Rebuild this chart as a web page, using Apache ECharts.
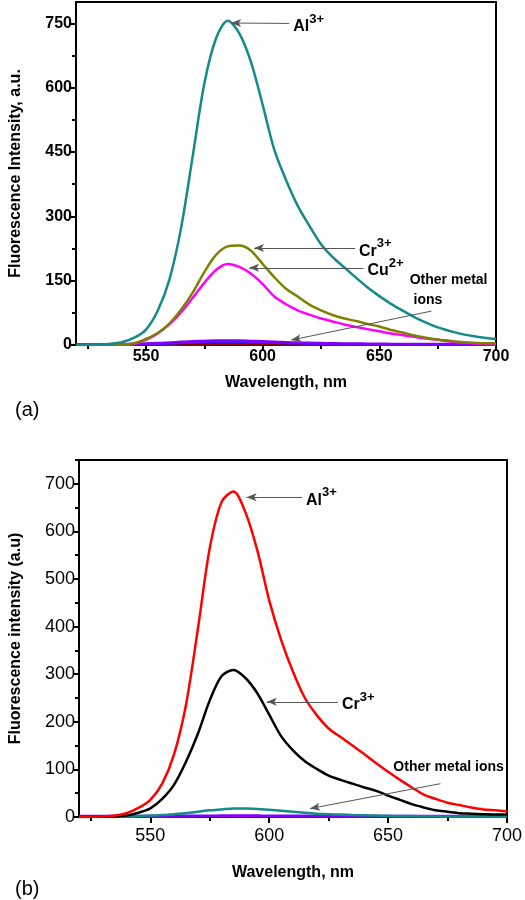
<!DOCTYPE html>
<html><head><meta charset="utf-8">
<script src="https://cdn.jsdelivr.net/npm/echarts@6/dist/echarts.min.js"></script>
<style>html,body{margin:0;padding:0;background:#fff}#c{width:525px;height:900px}</style>
</head><body><div id="c"></div>
<script>
// Wavelength grid (nm)
const wl = [520,525,530,535,540,545,550,555,560,565,570,575,580,585,590,595,600,605,610,615,620,625,630,635,640,645,650,655,660,665,670,675,680,685,690,695,700];
// Panel (a)
const aAl  = [0,0.5,1,3,7,17,36,80,152,272,440,610,715,756,727,660,560,455,385,325,278,235,205,181,157,134,114,96,80,65,52,41,33,26,21,17,14];
const aCr  = [0,0,0.5,1,1,4,14,28,50,82,122,170,210,230,232,220,189,158,131,113,94,81,70,62,56,49,43,35,29,22,17,13,10,7,5,4,4];
const aCu  = [0,0,0.5,1,1,3,12,27,48,76,110,145,175,189,182,166,142,113,95,81,71,62,55,48,42,37,32,27,23,19,15,12,8,6,4,3,2];
const aOth1 = [1,1,1,1,1.5,2,3,4,5,7,8,9,10,10,10,9,8,7,6,5,4.5,4,3.5,3,3,2.5,2.5,2,2,2,1.5,1.5,1.5,1,1,1,1];
const aOth2 = [0.5,0.5,0.5,0.5,1,1,1.5,2,3,4,5,5.5,6,6,6,5.5,5,4.5,4,3.5,3,2.5,2,2,1.5,1.5,1.5,1,1,1,1,1,1,0.5,0.5,0.5,0.5];
const aOth3 = [0.5,0.5,0.5,0.5,0.5,0.5,1,1,1.5,2,2,2.5,3,3,3,2.5,2.5,2,2,1.5,1.5,1.5,1,1,1,1,1,1,0.5,0.5,0.5,0.5,0.5,0.5,0.5,0.5,0.5];
const aOth4 = [0,0,0,0,0,0,0.5,0.5,0.5,1,1,1,1.5,1.5,1.5,1,1,1,1,1,0.5,0.5,0.5,0.5,0.5,0.5,0.5,0.5,0.5,0,0,0,0,0,0,0,0];
// Panel (b)
const bAl  = [0,0.5,1,3,8,19,36,70,132,236,395,565,662,684,640,560,455,372,305,250,214,186,168,150,132,113,95,78,62,47,38,30,25,20,16,14,12];
const bCr  = [0,0,0.5,1,3,9,18,38,68,116,175,245,296,309,292,260,215,170,140,117,101,87,78,70,62,55,45,36,27,20,14,11,8,7,6,5,5];
const bOth1 = [0,0,0.5,1,1,2,3,4,6,8,11,14,16,18,18,17,15,13,11,9,7,6,5,4,3.5,3,2.5,2,2,1.5,1.5,1,1,1,1,1,1];
const bOth2 = [2,2,2,2,2,2,2,2,2.5,2.5,2.5,2.5,3,3,3,3,2.5,2.5,2.5,2.5,2.5,2,2,2,2,2,2,2,2,2,2,2,2,2,2,2,2];
const bOth3 = [1,1,1,1,1,1,1,1,1,1,1.5,1.5,1.5,1.5,1.5,1.5,1.5,1,1,1,1,1,1,1,1,1,1,1,1,1,1,1,1,1,1,1,1];
// Tick values
const xMajor = [550,600,650,700];
const xMinor = [525,575,625,675];
const aYMajor = [0,150,300,450,600,750];
const aYMinor = [75,225,375,525,675];
const bYMajor = [0,100,200,300,400,500,600,700];
const bYMinor = [50,150,250,350,450,550,650,750];

const zip = arr => wl.map((x,i)=>[x, arr[i]]);
const FF = 'Liberation Sans, Arial, sans-serif';

function xAxes(g, labelStyle, margin, nameGap) {
  return [{
    type:'value', gridIndex:g, min:520, max:700, position:'bottom',
    name:'Wavelength, nm', nameLocation:'middle', nameGap:nameGap,
    nameTextStyle:{fontFamily:FF, fontWeight:'bold', fontSize:16, color:'#000'},
    axisLine:{show:true, onZero:false, lineStyle:{color:'#000', width:2}},
    axisTick:{show:true, customValues:xMajor, length:6, lineStyle:{color:'#000', width:2}},
    axisLabel:Object.assign({customValues:xMajor, margin:margin, color:'#000', fontFamily:FF}, labelStyle),
    splitLine:{show:false}
  },{
    type:'value', gridIndex:g, min:520, max:700, position:'bottom',
    axisLine:{show:false},
    axisTick:{show:true, customValues:xMinor, length:4, lineStyle:{color:'#000', width:2}},
    axisLabel:{show:false}, splitLine:{show:false}
  }];
}
function yAxes(g, max, major, minor, name, labelStyle, nameGap) {
  return [{
    type:'value', gridIndex:g, min:0, max:max, position:'left',
    name:name, nameLocation:'middle', nameGap:nameGap,
    nameTextStyle:{fontFamily:FF, fontWeight:'bold', fontSize:16, color:'#000'},
    axisLine:{show:true, onZero:false, lineStyle:{color:'#000', width:2}},
    axisTick:{show:true, customValues:major, length:6, lineStyle:{color:'#000', width:2}},
    axisLabel:Object.assign({customValues:major, margin:4, color:'#000', fontFamily:FF}, labelStyle),
    splitLine:{show:false}
  },{
    type:'value', gridIndex:g, min:0, max:max, position:'left',
    axisLine:{show:false},
    axisTick:{show:true, customValues:minor, length:4, lineStyle:{color:'#000', width:2}},
    axisLabel:{show:false}, splitLine:{show:false}
  }];
}

const rich = {
  n:{fontFamily:FF, fontWeight:'bold', fontSize:16, color:'#000', verticalAlign:'bottom', lineHeight:22},
  s:{fontFamily:FF, fontWeight:'bold', fontSize:13, color:'#000', verticalAlign:'top', lineHeight:22, padding:[0,0,10,0]},
  t:{fontFamily:FF, fontWeight:'bold', fontSize:14, color:'#000', lineHeight:20}
};

function line(name, data, color, xi, yi, width) {
  return {name, type:'line', xAxisIndex:xi, yAxisIndex:yi, data:zip(data), showSymbol:false, smooth:0.3,
    lineStyle:{color, width:width||2.5}, itemStyle:{color}, animation:false, silent:true};
}
const arrowStyle = {silent:true, animation:false, symbol:['none','arrow'], symbolSize:[6,10],
  lineStyle:{color:'#555', width:1, type:'solid'}, label:{show:false}, emphasis:{disabled:true}};
const textStyle = {silent:true, animation:false, symbol:'circle', symbolSize:0, itemStyle:{color:'transparent'},
  label:{show:true, position:'right', distance:4, rich:rich}};

const sA = [
  line('a4', aOth4, '#ff0000', 0, 0, 2),
  line('a3', aOth3, '#800000', 0, 0, 2),
  line('a2', aOth2, '#2020ff', 0, 0, 2),
  line('a1', aOth1, '#8000ff', 0, 0, 3),
  line('aCu', aCu, '#ff00ff', 0, 0, 2.5),
  line('aCr', aCr, '#808000', 0, 0, 2.5),
  line('aAl', aAl, '#148a8a', 0, 0, 2.5)
];
sA[6].markLine = Object.assign({}, arrowStyle, {data:[
  [{coord:[611.4,750]},{coord:[586.5,751]}],
  [{coord:[639.6,226]},{coord:[596.3,226]}],
  [{coord:[643.2,180]},{coord:[594.2,180]}],
  [{coord:[672.3,79]},{coord:[612.2,11.5]}]
]});
sA[6].markPoint = Object.assign({}, textStyle, {data:[
  {coord:[611.4,750], label:{formatter:'{n|Al}{s|3+}'}},
  {coord:[639.6,226], label:{formatter:'{n|Cr}{s|3+}'}},
  {coord:[643.2,180], label:{formatter:'{n|Cu}{s|2+}'}},
  {coord:[661.3,128], label:{formatter:'{t|Other metal}\n{t| ions}'}}
]});

const sB = [
  line('b3', bOth3, '#ff00ff', 2, 2, 2),
  line('b2', bOth2, '#8000ff', 2, 2, 2.5),
  line('b1', bOth1, '#148a8a', 2, 2, 2.5),
  line('bCr', bCr, '#000000', 2, 2, 2.5),
  line('bAl', bAl, '#ff0000', 2, 2, 2.5)
];
sB[4].markLine = Object.assign({}, arrowStyle, {data:[
  [{coord:[613.8,672]},{coord:[590.5,672]}],
  [{coord:[628.9,242]},{coord:[599,242]}],
  [{coord:[672,70]},{coord:[617.2,17.7]}]
]});
sB[4].markPoint = Object.assign({}, textStyle, {data:[
  {coord:[613.8,672], label:{formatter:'{n|Al}{s|3+}'}},
  {coord:[628.9,242], label:{formatter:'{n|Cr}{s|3+}'}},
  {coord:[652.2,105], label:{position:'right', distance:0, formatter:'{t|Other metal ions}'}}
]});

const chart = echarts.init(document.getElementById('c'), null, {renderer:'canvas'});
chart.setOption({
  backgroundColor:'#fff',
  animation:false,
  title:[
    {text:'(a)', left:10, top:395, textStyle:{fontFamily:FF, fontWeight:'normal', fontSize:20, color:'#000'}},
    {text:'(b)', left:10, top:874, textStyle:{fontFamily:FF, fontWeight:'normal', fontSize:20, color:'#000'}}
  ],
  grid:[
    {left:73, top:2, width:423, height:343, show:true, borderColor:'#000', borderWidth:2, backgroundColor:'transparent'},
    {left:72, top:460, width:438, height:357, show:true, borderColor:'#000', borderWidth:2, backgroundColor:'transparent'}
  ],
  xAxis:[].concat(
    xAxes(0, {fontWeight:'bold', fontSize:16}, 4, 30),
    xAxes(1, {fontWeight:'normal', fontSize:18}, 10, 48)
  ),
  yAxis:[].concat(
    yAxes(0, 800, aYMajor, aYMinor, 'Fluorescence Intensity, a.u.', {fontWeight:'bold', fontSize:16}, 52),
    yAxes(1, 750, bYMajor, bYMinor, 'Fluorescence intensity (a.u)', {fontWeight:'normal', fontSize:18}, 55)
  ),
  series: sA.concat(sB)
});
</script></body></html>
